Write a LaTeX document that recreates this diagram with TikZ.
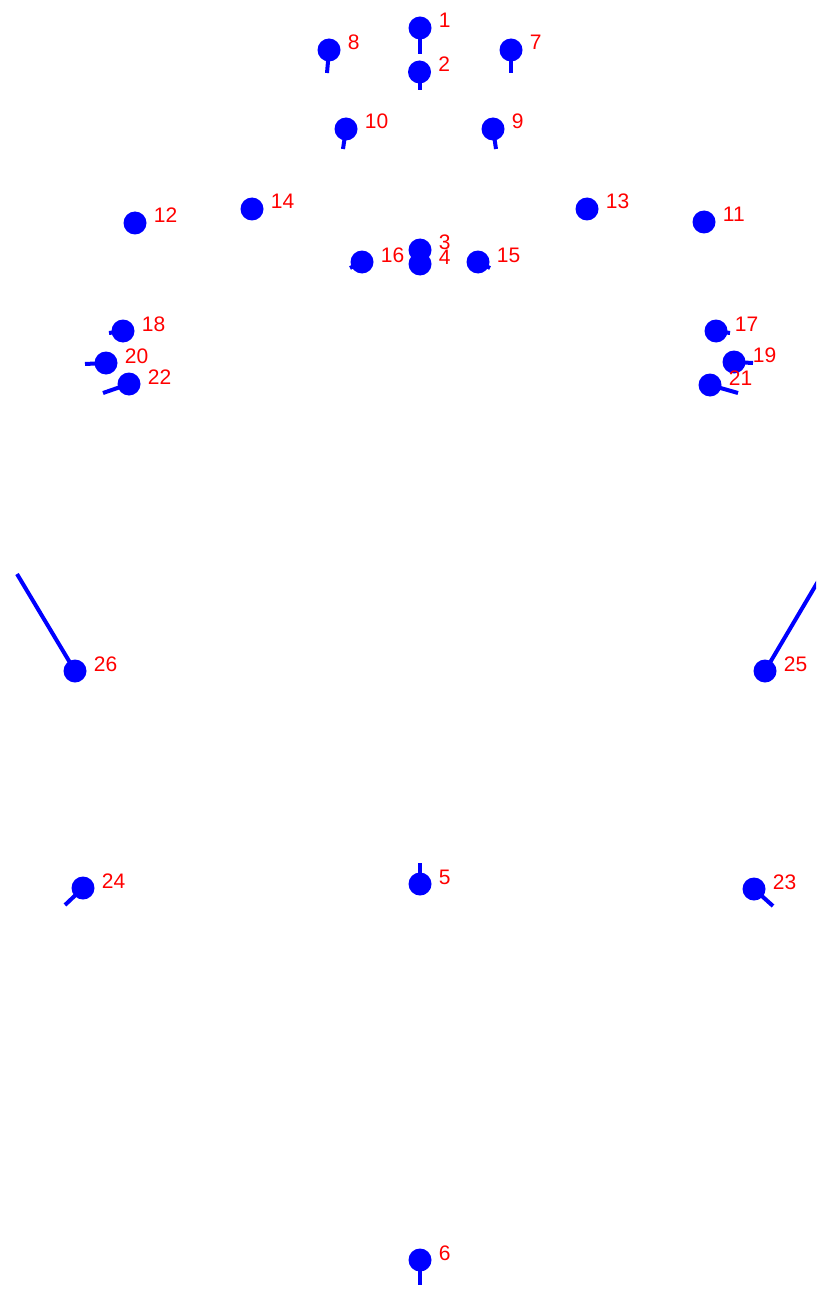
\documentclass[tikz,border=0pt]{standalone}
\usepackage{fontspec}
\setmainfont{Liberation Sans}
\usepackage{tikz}
\usetikzlibrary{positioning}
\definecolor{MarkBlue}{RGB}{0,0,255}
\definecolor{TagRed}{RGB}{255,0,0}
\tikzset{
  dot/.style={circle,fill=MarkBlue,inner sep=0pt,minimum size=23pt},
  tick/.style={draw=MarkBlue,line width=4pt},
  tag/.style={text=TagRed,inner sep=0pt,anchor=base west,xshift=7pt,
    font=\fontsize{21}{21}\selectfont}
}

\begin{document}
\begin{tikzpicture}[x=1pt,y=-1pt]
  \clip (0,0) rectangle (816,1289);
  % head
  \node[dot,label={[tag]east:1}] (p1) at (420,28) {};
  \node[dot,label={[tag]east:2}] (p2) at (419.5,72) {};
  \node[dot,label={[tag]east:7}] (p7) at (511,50) {};
  \node[dot,label={[tag]east:8}] (p8) at (329,50) {};
  \node[dot,label={[tag]east:9}] (p9) at (493,129) {};
  \node[dot,label={[tag]east:10}] (p10) at (346,129) {};
  \node[dot,label={[tag]east:11}] (p11) at (704,222) {};
  \node[dot,label={[tag]east:12}] (p12) at (135,223) {};
  \node[dot,label={[tag]east:13}] (p13) at (587,209) {};
  \node[dot,label={[tag]east:14}] (p14) at (252,209) {};
  \node[dot,label={[tag]east:15}] (p15) at (478,262) {};
  \node[dot,label={[tag]east:16}] (p16) at (362,262) {};
  \node[dot,label={[tag]east:3}] (p3) at (420,250) {};
  \node[dot,label={[tag]east:4}] (p4) at (420,264) {};
  % hands
  \node[dot,label={[tag]east:17}] (p17) at (716,331) {};
  \node[dot,label={[tag]east:18}] (p18) at (123,331) {};
  \node[dot,label={[tag]east:19}] (p19) at (734,362) {};
  \node[dot,label={[tag]east:20}] (p20) at (106,363) {};
  \node[dot,label={[tag]east:21}] (p21) at (710,385) {};
  \node[dot,label={[tag]east:22}] (p22) at (129,384) {};
  % body
  \node[dot,label={[tag]east:25}] (p25) at (765,671) {};
  \node[dot,label={[tag]east:26}] (p26) at (75,671) {};
  \node[dot,label={[tag]east:23}] (p23) at (754,889) {};
  \node[dot,label={[tag]east:24}] (p24) at (83,888) {};
  \node[dot,label={[tag]east:5}] (p5) at (420,884) {};
  \node[dot,label={[tag]east:6}] (p6) at (420,1260) {};
  % tick ends
  \coordinate (t1) at (420,54);
  \coordinate (t2) at (419.5,90);
  \coordinate (t7) at (511,73);
  \coordinate (t8) at (327,73);
  \coordinate (t9) at (496,149);
  \coordinate (t10) at (343,149);
  \coordinate (t15) at (490,268);
  \coordinate (t16) at (350,268);
  \coordinate (t17) at (730,333);
  \coordinate (t18) at (109,333);
  \coordinate (t19) at (753,363);
  \coordinate (t20) at (85,364);
  \coordinate (t21) at (738,393);
  \coordinate (t22) at (103,393);
  \coordinate (t25) at (823,573);
  \coordinate (t26) at (17,574);
  \coordinate (t23) at (773,906);
  \coordinate (t24) at (65,905);
  \coordinate (t5) at (420,863);
  \coordinate (t6) at (420,1285);
  \draw[tick] (p1.center) -- (t1);
  \draw[tick] (p2.center) -- (t2);
  \draw[tick] (p7.center) -- (t7);
  \draw[tick] (p8.center) -- (t8);
  \draw[tick] (p9.center) -- (t9);
  \draw[tick] (p10.center) -- (t10);
  \draw[tick] (p15.center) -- (t15);
  \draw[tick] (p16.center) -- (t16);
  \draw[tick] (p17.center) -- (t17);
  \draw[tick] (p18.center) -- (t18);
  \draw[tick] (p19.center) -- (t19);
  \draw[tick] (p20.center) -- (t20);
  \draw[tick] (p21.center) -- (t21);
  \draw[tick] (p22.center) -- (t22);
  \draw[tick] (p25.center) -- (t25);
  \draw[tick] (p26.center) -- (t26);
  \draw[tick] (p23.center) -- (t23);
  \draw[tick] (p24.center) -- (t24);
  \draw[tick] (p5.center) -- (t5);
  \draw[tick] (p6.center) -- (t6);
\end{tikzpicture}
\end{document}
